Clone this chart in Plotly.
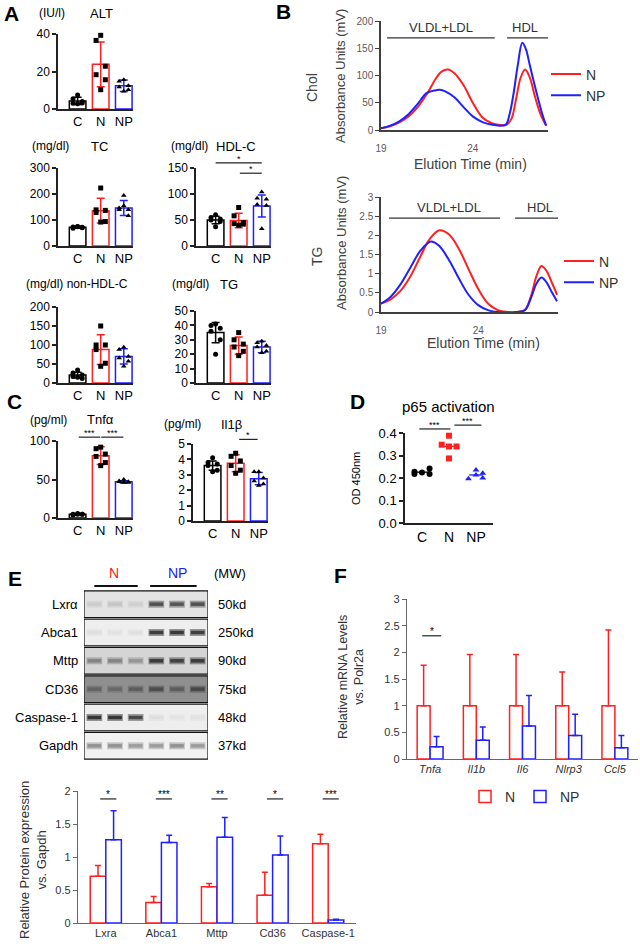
import plotly.graph_objects as go
import numpy as np

# ---------------- DATA ----------------
groups = ["C", "N", "NP"]

alt_C = [7.5, 5.5, 4.0, 3.0, 3.2, 2.8]
alt_N = [39.3, 36.6, 22.8, 18.3, 15.6, 10.3]
alt_NP = [15.6, 14.8, 12.4, 11.7, 10.3, 9.4]
alt_mean = [4.3, 23.8, 12.4]
alt_sd = [1.9, 12.0, 3.1]

tc_C = [75, 73, 70, 68, 72, 74]
tc_N = [223, 139, 137, 129, 94, 92]
tc_NP = [194, 146, 139, 139, 116, 155]
tc_mean = [72, 136, 146]
tc_sd = [4, 48, 29]

hdl_C = [60, 55, 52, 50, 47, 37]
hdl_N = [74, 58, 45, 43, 42, 40]
hdl_NP = [104, 92, 90, 80, 78, 33]
hdl_mean = [50, 49, 77]
hdl_sd = [7, 14, 21]

nhdl_C = [34, 26, 21, 17, 12, 15]
nhdl_N = [150, 100, 100, 88, 52, 44]
nhdl_NP = [94, 88, 70, 66, 57, 44]
nhdl_mean = [21, 88, 70]
nhdl_sd = [7, 39, 20]

tg_C = [41, 40, 38, 36, 30, 20]
tg_Np = [35, 30, 27, 25, 22, 19]
tg_NPp = [29, 28, 26, 25, 22, 21]
tg_mean = [35, 26, 25]
tg_sd = [7, 6, 4]

tnf_C = [5, 5, 5, 4, 5, 6]
tnf_N = [92, 90, 83, 80, 72, 68]
tnf_NP = [50, 48, 47, 47, 46, 46]
tnf_mean = [5, 81, 47]
tnf_sd = [0.6, 11.5, 1.5]

il1_C = [4.1, 3.8, 3.7, 3.6, 3.3, 3.2]
il1_N = [4.4, 4.2, 3.9, 3.6, 3.3, 3.1]
il1_NP = [3.2, 3.2, 2.8, 2.6, 2.4, 2.3]
il1_mean = [3.6, 3.75, 2.75]
il1_sd = [0.3, 0.55, 0.4]

# Panel B chromatograms
chol_t_N = [19.0, 19.5, 20.0, 20.5, 21.0, 21.5, 22.0, 22.3, 22.65, 23.0, 23.5, 24.0, 24.5, 25.0, 25.5,
            25.8, 26.1, 26.35, 26.6, 26.85, 27.1, 27.4, 27.7, 28.0]
chol_N = [3, 7, 14, 25, 42, 66, 95, 107, 111, 104, 82, 50, 24, 13, 9,
          9, 20, 55, 95, 111, 97, 60, 28, 8]
chol_t_NP = [19.0, 19.5, 20.0, 20.5, 21.0, 21.5, 22.0, 22.2, 22.5, 23.0, 23.5, 24.0, 24.5, 25.0, 25.5,
             25.8, 26.0, 26.2, 26.45, 26.7, 26.9, 27.1, 27.45, 27.8, 28.0]
chol_NP = [3, 8, 16, 29, 48, 68, 73, 74, 71, 60, 42, 25, 15, 10, 8,
           10, 28, 62, 118, 160, 148, 120, 72, 28, 8]

tgc_t_N = [19.0, 19.5, 20.0, 20.5, 21.0, 21.5, 22.0, 22.5, 23.0, 23.5, 24.0, 24.5, 25.0, 25.5, 26.0,
           26.4, 26.7, 27.0, 27.25, 27.5, 27.8, 28.05]
tgc_N = [0.22, 0.33, 0.55, 0.92, 1.42, 1.9, 2.13, 2.02, 1.65, 1.12, 0.6, 0.22, 0.05, 0.0, 0.0,
         0.05, 0.4, 0.95, 1.2, 1.08, 0.75, 0.45]
tgc_t_NP = [19.0, 19.5, 20.0, 20.5, 21.0, 21.5, 21.6, 22.0, 22.5, 23.0, 23.5, 24.0, 24.5, 25.0, 26.0,
            26.4, 26.7, 27.0, 27.25, 27.5, 27.8, 28.05]
tgc_NP = [0.22, 0.4, 0.72, 1.15, 1.58, 1.83, 1.84, 1.72, 1.35, 0.88, 0.45, 0.18, 0.05, 0.0, 0.0,
          0.05, 0.35, 0.75, 0.9, 0.78, 0.5, 0.28]

# Panel D
d_C = [0.228, 0.218, 0.224, 0.242, 0.218]
d_N = [0.388, 0.348, 0.340, 0.340, 0.287]
d_NP = [0.197, 0.236, 0.213, 0.221, 0.200]

# Panel E blot
blot_rows = ["Lxrα", "Abca1", "Mttp", "CD36", "Caspase-1", "Gapdh"]
blot_mw = ["50kd", "250kd", "90kd", "75kd", "48kd", "37kd"]
blot_lanes_N = [1, 2, 3]
blot_lanes_NP = [4, 5, 6]
blot_intensity = [
    [0.12, 0.15, 0.10, 0.75, 0.72, 0.75],
    [0.08, 0.06, 0.07, 0.85, 0.88, 0.85],
    [0.45, 0.45, 0.35, 0.85, 0.82, 0.85],
    [0.40, 0.35, 0.45, 0.60, 0.45, 0.65],
    [0.90, 0.90, 0.80, 0.08, 0.05, 0.06],
    [0.45, 0.45, 0.40, 0.40, 0.45, 0.40],
]
blot_bg = ["#e3e3e3", "#eeeeee", "#d5d5d5", "#8f8f8f", "#eeeeee", "#f1f1f1"]

# Panel E bar
e_cats = ["Lxra", "Abca1", "Mttp", "Cd36", "Caspase-1"]
e_N = [0.71, 0.31, 0.55, 0.42, 1.20]
e_N_err = [0.16, 0.09, 0.05, 0.35, 0.145]
e_NP = [1.26, 1.22, 1.30, 1.03, 0.045]
e_NP_err = [0.44, 0.11, 0.30, 0.29, 0.01]
e_sig = ["*", "***", "**", "*", "***"]

# Panel F
f_cats = ["Tnfa", "Il1b", "Il6", "Nlrp3", "Ccl5"]
f_N = [1.0, 1.0, 1.0, 1.0, 1.0]
f_N_err = [0.76, 0.96, 0.96, 0.63, 1.42]
f_NP = [0.23, 0.35, 0.62, 0.44, 0.21]
f_NP_err = [0.19, 0.25, 0.57, 0.40, 0.23]

# ---------------- STYLE ----------------
W, H = 640, 944
FONT = "Arial, Liberation Sans, sans-serif"
RED = "#ff2020"
BLUE = "#2020ff"
BLACK = "#000000"
AX = "#222222"
GRAY = "#595959"
COLS = [BLACK, RED, BLUE]
SYMS = ["circle", "square", "triangle-up"]
JIT = [0.0, -0.2, 0.2, -0.2, 0.2, 0.0]


def X(px):
    return px / W


def Y(py):
    return 1 - py / H


fig = go.Figure()
layout = dict(width=W, height=H, margin=dict(l=0, r=0, t=0, b=0, autoexpand=False),
              paper_bgcolor="white", plot_bgcolor="white", barmode="overlay",
              font=dict(family=FONT, color="black"), showlegend=True)
ann = []
shp = []


def add_axes(i, x0, x1, y0, y1, xr, yr, xkw=None, ykw=None):
    xs = "xaxis" if i == 1 else f"xaxis{i}"
    ys = "yaxis" if i == 1 else f"yaxis{i}"
    xref = "x" if i == 1 else f"x{i}"
    yref = "y" if i == 1 else f"y{i}"
    xa = dict(domain=[X(x0), X(x1)], range=xr, anchor=yref, showgrid=False,
              zeroline=False, fixedrange=True, automargin=False)
    ya = dict(domain=[Y(y1), Y(y0)], range=yr, anchor=xref, showgrid=False,
              zeroline=False, fixedrange=True, automargin=False)
    xa.update(xkw or {})
    ya.update(ykw or {})
    layout[xs] = xa
    layout[ys] = ya
    return xref, yref


def ypaper(yref, y):
    ax = layout["yaxis" + yref[1:]]
    d, r = ax["domain"], ax["range"]
    return d[0] + (y - r[0]) / (r[1] - r[0]) * (d[1] - d[0])


def text(x, y, s, size=13, color="black", xref="paper", yref="paper", **kw):
    d = dict(x=x, y=y, xref=xref, yref=yref, text=s, showarrow=False,
             xanchor="center", yanchor="middle",
             font=dict(size=size, color=color, family=FONT))
    d.update(kw)
    ann.append(d)


def sig(xref, yref, x0, x1, y, stars, size=9):
    yp = ypaper(yref, y)
    shp.append(dict(type="line", xref=xref, yref="paper", x0=x0, x1=x1, y0=yp, y1=yp,
                    line=dict(color=AX, width=1.2)))
    text((x0 + x1) / 2, yp, stars, size=size, xref=xref, yref="paper",
         yanchor="bottom", yshift=-3)


def bar_panel(i, x0, ytop, ybot, ymax, yticks, means, sds, pts):
    xa, ya = add_axes(
        i, x0, x0 + 75, ytop, ybot, [-0.85, 2.4], [0, ymax],
        xkw=dict(showline=True, linecolor=AX, linewidth=1.5, tickvals=[0, 1, 2],
                 ticktext=groups, ticks="", tickfont=dict(size=13)),
        ykw=dict(showline=True, linecolor=AX, linewidth=1.5, ticks="outside",
                 ticklen=4, tickwidth=1.5, tickcolor=AX, tickvals=yticks,
                 tickfont=dict(size=12)))
    for k in range(3):
        fig.add_trace(go.Bar(
            x=[k], y=[means[k]], width=0.72, xaxis=xa, yaxis=ya, showlegend=False,
            marker=dict(color="white", line=dict(color=COLS[k], width=1.5)),
            error_y=dict(type="data", array=[sds[k]], color=COLS[k], thickness=1.5, width=4)))
    for k in range(3):
        p = pts[k]
        fig.add_trace(go.Scatter(
            x=[k + JIT[j] for j in range(len(p))], y=p, mode="markers", xaxis=xa, yaxis=ya,
            showlegend=False, cliponaxis=False,
            marker=dict(symbol=SYMS[k], size=5, color="black")))
    return xa, ya


# ---------------- PANEL A ----------------
bar_panel(1, 58, 34, 109, 40, [0, 20, 40], alt_mean, alt_sd, [alt_C, alt_N, alt_NP])
text(X(52), Y(13), "(IU/l)", 12)
text(X(101), Y(13), "ALT", 13)

bar_panel(2, 58, 168, 246, 300, [0, 100, 200, 300], tc_mean, tc_sd, [tc_C, tc_N, tc_NP])
text(X(50), Y(146), "(mg/dl)", 12)
text(X(99), Y(146), "TC", 13)

xa3, ya3 = bar_panel(3, 196, 168, 246, 150, [0, 50, 100, 150], hdl_mean, hdl_sd, [hdl_C, hdl_N, hdl_NP])
text(X(189), Y(146), "(mg/dl)", 12)
text(X(236), Y(146), "HDL-C", 13)
sig(xa3, ya3, 0, 2, 160, "*")
sig(xa3, ya3, 1.05, 2, 140, "*")

bar_panel(4, 58, 307, 383, 200, [0, 50, 100, 150, 200], nhdl_mean, nhdl_sd, [nhdl_C, nhdl_N, nhdl_NP])
text(X(77), Y(284), "(mg/dl) non-HDL-C", 12)

bar_panel(5, 196, 311, 383, 50, [0, 10, 20, 30, 40, 50], tg_mean, tg_sd, [tg_C, tg_Np, tg_NPp])
text(X(190), Y(284), "(mg/dl)", 12)
text(X(229), Y(284), "TG", 13)

# ---------------- PANEL C ----------------
xa6, ya6 = bar_panel(6, 58, 441, 518, 100, [0, 50, 100], tnf_mean, tnf_sd, [tnf_C, tnf_N, tnf_NP])
text(X(48), Y(420), "(pg/ml)", 12)
text(X(100), Y(420), "Tnfα", 13)
sig(xa6, ya6, 0.05, 0.98, 105, "***")
sig(xa6, ya6, 1.02, 1.98, 105, "***")

xa7, ya7 = bar_panel(7, 193, 444, 521, 5, [0, 1, 2, 3, 4, 5], il1_mean, il1_sd, [il1_C, il1_N, il1_NP])
text(X(182), Y(424), "(pg/ml)", 12)
text(X(231), Y(424), "Il1β", 13)
sig(xa7, ya7, 1.15, 1.95, 5.3, "*")

# ---------------- PANEL B ----------------
bax = dict(showline=True, linecolor="#404040", linewidth=1.5, tickfont=dict(size=10, color=GRAY))
xa9, ya9 = add_axes(
    9, 381, 548, 21, 130, [19, 28.1], [0, 200],
    xkw=dict(bax, tickvals=[19, 24], ticks="", ticklabelstandoff=8),
    ykw=dict(bax, tickvals=[0, 50, 100, 150, 200], ticks="outside", ticklen=4,
             tickcolor="#404040", tickwidth=1.2))
fig.add_trace(go.Scatter(x=chol_t_N, y=chol_N, mode="lines", name="N", xaxis=xa9, yaxis=ya9,
                         line=dict(color=RED, width=2, shape="spline", smoothing=1.0), legend="legend"))
fig.add_trace(go.Scatter(x=chol_t_NP, y=chol_NP, mode="lines", name="NP", xaxis=xa9, yaxis=ya9,
                         line=dict(color=BLUE, width=2, shape="spline", smoothing=1.0), legend="legend"))
shp.append(dict(type="line", xref=xa9, yref=ya9, x0=19.33, x1=25.2, y0=169, y1=169, line=dict(color="#333", width=1.2)))
shp.append(dict(type="line", xref=xa9, yref=ya9, x0=25.87, x1=28.26, y0=169, y1=169, line=dict(color="#333", width=1.2)))
text(22.25, 169, "VLDL+LDL", 13, "#333", xref=xa9, yref=ya9, yanchor="bottom", yshift=1)
text(26.85, 169, "HDL", 13, "#333", xref=xa9, yref=ya9, yanchor="bottom", yshift=1)
text(X(340), Y(76), "Absorbance Units (mV)", 13, "#404040", textangle=-90)
text(X(312), Y(88), "Chol", 14, "#404040", textangle=-90)
text(X(470), Y(164), "Elution Time (min)", 14, "#404040")

xa10, ya10 = add_axes(
    10, 381, 558, 197, 312, [19, 28.1], [0, 3],
    xkw=dict(bax, tickvals=[19, 24], ticks="", ticklabelstandoff=8),
    ykw=dict(bax, tickvals=[0, 0.5, 1, 1.5, 2, 2.5, 3], ticks="outside", ticklen=4,
             tickcolor="#404040", tickwidth=1.2))
fig.add_trace(go.Scatter(x=tgc_t_N, y=tgc_N, mode="lines", name="N", xaxis=xa10, yaxis=ya10,
                         line=dict(color=RED, width=2, shape="spline", smoothing=1.0), legend="legend2"))
fig.add_trace(go.Scatter(x=tgc_t_NP, y=tgc_NP, mode="lines", name="NP", xaxis=xa10, yaxis=ya10,
                         line=dict(color=BLUE, width=2, shape="spline", smoothing=1.0), legend="legend2"))
shp.append(dict(type="line", xref=xa10, yref=ya10, x0=19.41, x1=25.12, y0=2.45, y1=2.45, line=dict(color="#333", width=1.2)))
shp.append(dict(type="line", xref=xa10, yref=ya10, x0=25.89, x1=28.25, y0=2.45, y1=2.45, line=dict(color="#333", width=1.2)))
text(22.5, 2.45, "VLDL+LDL", 13, "#333", xref=xa10, yref=ya10, yanchor="bottom", yshift=1)
text(27.2, 2.45, "HDL", 13, "#333", xref=xa10, yref=ya10, yanchor="bottom", yshift=1)
text(X(342), Y(243), "Absorbance Units (mV)", 13, "#404040", textangle=-90)
text(X(317), Y(257), "TG", 14, "#404040", textangle=-90)
text(X(483), Y(343), "Elution Time (min)", 14, "#404040")

layout["legend"] = dict(x=X(546), y=Y(85), xanchor="left", yanchor="middle",
                        font=dict(size=14, color="#333"), bgcolor="rgba(0,0,0,0)")
layout["legend2"] = dict(x=X(559), y=Y(272), xanchor="left", yanchor="middle",
                         font=dict(size=14, color="#333"), bgcolor="rgba(0,0,0,0)")

# ---------------- PANEL D ----------------
xa8, ya8 = add_axes(
    8, 405, 493, 433, 523, [-0.63, 2.63], [0, 0.4],
    xkw=dict(showline=True, linecolor=AX, linewidth=1.5, tickvals=[0, 1, 2], ticktext=groups,
             ticks="", tickfont=dict(size=14)),
    ykw=dict(showline=True, linecolor=AX, linewidth=1.5, ticks="outside", ticklen=4,
             tickwidth=1.5, tickcolor=AX, tickvals=[0, 0.1, 0.2, 0.3, 0.4], tickformat=".1f",
             tickfont=dict(size=13)))
d_jit = [[-0.28, -0.28, 0.0, 0.28, 0.28], [0.0, -0.27, 0.0, 0.28, 0.0], [-0.28, 0.0, 0.0, 0.25, 0.25]]
for k, vals in enumerate([d_C, d_N, d_NP]):
    m = float(np.mean(vals))
    fig.add_trace(go.Scatter(x=[k - 0.25, k + 0.25], y=[m, m], mode="lines", xaxis=xa8, yaxis=ya8,
                             showlegend=False, line=dict(color=COLS[k], width=1.3)))
    fig.add_trace(go.Scatter(x=[k + d_jit[k][j] for j in range(len(vals))], y=vals, mode="markers",
                             xaxis=xa8, yaxis=ya8, showlegend=False, cliponaxis=False,
                             marker=dict(symbol=SYMS[k], size=6, color=COLS[k])))
sig(xa8, ya8, -0.1, 1.05, 0.418, "***")
sig(xa8, ya8, 1.2, 2.2, 0.435, "***")
text(X(448), Y(406), "p65 activation", 15)
text(X(356), Y(479), "OD 450nm", 11, textangle=-90)

# ---------------- PANEL E: blot ----------------
xa11, ya11 = add_axes(11, 84, 208, 590, 760, [0.5, 6.5], [5.5, -0.5],
                      xkw=dict(visible=False), ykw=dict(visible=False))


def mix(bg, inten, dark=(32, 32, 32)):
    b = [int(bg[i:i + 2], 16) for i in (1, 3, 5)]
    c = [round(b[j] * (1 - inten) + dark[j] * inten) for j in range(3)]
    return "rgb(%d,%d,%d)" % tuple(c)


lanes = blot_lanes_N + blot_lanes_NP
for r, name in enumerate(blot_rows):
    shp.append(dict(type="rect", xref=xa11, yref=ya11, x0=0.5, x1=6.5, y0=r - 0.47, y1=r + 0.47,
                    fillcolor=blot_bg[r], line=dict(color="#111", width=1.2), layer="below"))
    for li, lane in enumerate(lanes):
        inten = blot_intensity[r][li]
        fig.add_trace(go.Scatter(x=[lane - 0.38, lane + 0.38], y=[r, r], mode="lines",
                                 xaxis=xa11, yaxis=ya11, showlegend=False, hoverinfo="skip",
                                 line=dict(color=mix(blot_bg[r], inten * 0.5), width=7)))
        fig.add_trace(go.Scatter(x=[lane - 0.33, lane + 0.33], y=[r, r], mode="lines",
                                 xaxis=xa11, yaxis=ya11, showlegend=False, hoverinfo="skip",
                                 line=dict(color=mix(blot_bg[r], inten), width=3.5)))
    text(X(80), r, name, 13, xref="paper", yref=ya11, xanchor="right")
    text(X(216), r, blot_mw[r], 13, xref="paper", yref=ya11, xanchor="left")

shp.append(dict(type="line", xref=xa11, yref="paper", x0=min(blot_lanes_N) + 0.0, x1=max(blot_lanes_N) + 0.1,
                y0=Y(586), y1=Y(586), line=dict(color="#111", width=2)))
shp.append(dict(type="line", xref=xa11, yref="paper", x0=min(blot_lanes_NP) - 0.3, x1=max(blot_lanes_NP) - 0.05,
                y0=Y(586), y1=Y(586), line=dict(color="#111", width=2)))
text(X(114), Y(573), "N", 14, RED)
text(X(177), Y(573), "NP", 14, BLUE)
text(X(230), Y(573), "(MW)", 13)

# ---------------- PANEL E: bar ----------------
efx = dict(showline=True, linecolor="#666", linewidth=1.3, ticks="", tickfont=dict(size=11, color="#333"))
efy = dict(showline=True, linecolor="#666", linewidth=1.3, ticks="outside", ticklen=4,
           tickcolor="#666", tickwidth=1.2, tickfont=dict(size=11, color="#333"))
xa12, ya12 = add_axes(12, 78, 356, 791, 923, [-0.5, 4.5], [0, 2],
                      xkw=dict(efx, tickvals=list(range(5)), ticktext=e_cats),
                      ykw=dict(efy, tickvals=[0, 0.5, 1, 1.5, 2], ticktext=["0", "0.5", "1", "1.5", "2"]))
fig.add_trace(go.Bar(x=list(range(5)), y=e_N, width=0.28, offset=-0.28, xaxis=xa12, yaxis=ya12,
                     showlegend=False, marker=dict(color="white", line=dict(color=RED, width=1.5)),
                     error_y=dict(type="data", symmetric=False, array=e_N_err, arrayminus=[0] * 5,
                                  color=RED, thickness=1.5, width=3)))
fig.add_trace(go.Bar(x=list(range(5)), y=e_NP, width=0.28, offset=0.0, xaxis=xa12, yaxis=ya12,
                     showlegend=False, marker=dict(color="white", line=dict(color=BLUE, width=1.5)),
                     error_y=dict(type="data", symmetric=False, array=e_NP_err, arrayminus=[0] * 5,
                                  color=BLUE, thickness=1.5, width=3)))
for k, s in enumerate(e_sig):
    sig(xa12, ya12, k - 0.1, k + 0.19, 1.88, s, 10)
text(X(33), Y(860), "Relative Protein expression<br>vs. Gapdh", 13, "#333", textangle=-90)

# ---------------- PANEL F ----------------
xa13, ya13 = add_axes(13, 407, 638, 599, 759, [-0.5, 4.5], [0, 3],
                      xkw=dict(efx, tickvals=list(range(5)), ticktext=["<i>%s</i>" % c for c in f_cats]),
                      ykw=dict(efy, tickvals=[0, 0.5, 1, 1.5, 2, 2.5, 3],
                               ticktext=["0", "0.5", "1", "1.5", "2", "2.5", "3"]))
fig.add_trace(go.Bar(x=list(range(5)), y=f_N, width=0.28, offset=-0.28, xaxis=xa13, yaxis=ya13,
                     name="N", legend="legend3",
                     marker=dict(color="white", line=dict(color=RED, width=1.5)),
                     error_y=dict(type="data", symmetric=False, array=f_N_err, arrayminus=[0] * 5,
                                  color=RED, thickness=1.5, width=3)))
fig.add_trace(go.Bar(x=list(range(5)), y=f_NP, width=0.28, offset=0.0, xaxis=xa13, yaxis=ya13,
                     name="NP", legend="legend4",
                     marker=dict(color="white", line=dict(color=BLUE, width=1.5)),
                     error_y=dict(type="data", symmetric=False, array=f_NP_err, arrayminus=[0] * 5,
                                  color=BLUE, thickness=1.5, width=3)))
sig(xa13, ya13, -0.17, 0.24, 2.31, "*", 10)
text(X(351), Y(677), "Relative mRNA Levels<br>vs. Polr2a", 12.5, "#333", textangle=-90)
layout["legend3"] = dict(x=X(465), y=Y(797), xanchor="left", yanchor="middle",
                         font=dict(size=14, color="#333"), bgcolor="rgba(0,0,0,0)")
layout["legend4"] = dict(x=X(520), y=Y(797), xanchor="left", yanchor="middle",
                         font=dict(size=14, color="#333"), bgcolor="rgba(0,0,0,0)")

# ---------------- PANEL LETTERS ----------------
for s, px, py in [("A", 11, 13), ("B", 283, 11), ("C", 14, 401), ("D", 357, 401), ("E", 15, 578), ("F", 340, 575)]:
    text(X(px), Y(py), "<b>%s</b>" % s, 21)

layout["annotations"] = ann
layout["shapes"] = shp
fig.update_layout(**layout)
fig.write_html("out.html", config={"displayModeBar": False},
               post_script="document.body.style.margin='0px';document.body.style.overflow='hidden';")
